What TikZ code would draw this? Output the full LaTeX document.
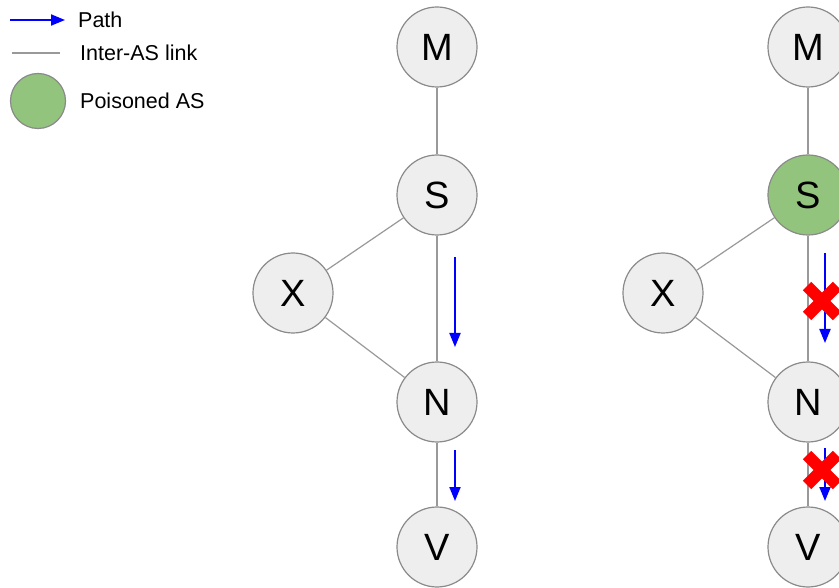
\documentclass[tikz,border=0pt]{standalone}
\usepackage{fontspec}
\setmainfont{Liberation Sans}
\usetikzlibrary{arrows.meta,calc}
\definecolor{nodefill}{HTML}{EEEEEE}
\definecolor{nodeborder}{HTML}{8A8A8A}
\definecolor{linkgray}{HTML}{999999}
\definecolor{poison}{HTML}{93C47D}
\definecolor{pathblue}{HTML}{0000FF}
\definecolor{crossred}{HTML}{FF0000}
\tikzset{
  asnode/.style={circle, draw=nodeborder, fill=nodefill, line width=1.2pt, minimum size=80pt, inner sep=0pt, font=\fontsize{38}{40}\selectfont},
  poisoned/.style={asnode, fill=poison},
  link/.style={draw=linkgray, line width=1.2pt},
  patharrow/.style={draw=pathblue, line width=2pt, -{Triangle[width=11pt,length=14pt]}},
  crossline/.style={draw=crossred, line width=12pt},
  legendtext/.style={anchor=west, inner sep=0pt, font=\fontsize{21.5}{24}\selectfont}
}
\begin{document}
\begin{tikzpicture}[x=1pt,y=-1pt]
\clip (0,0) rectangle (839,588);
\useasboundingbox (0,0) rectangle (839,588);
\fill[white] (0,0) rectangle (839,588);

% legend
\coordinate (la1) at (10,20);
\coordinate (la2) at (65,20);
\draw[patharrow] (la1) -- (la2);
\node[legendtext] (lpath) at (78,20) {Path};
\coordinate (ll1) at (12,53);
\coordinate (ll2) at (60,53);
\draw[link] (ll1) -- (ll2);
\node[legendtext] (llink) at (80,53) {Inter-AS link};
\node[poisoned, minimum size=55pt] (lpois) at (38,101) {};
\node[legendtext] (lpoistext) at (80,101) {Poisoned AS};

% left graph
\node[asnode] (M1) at (437,47) {M};
\node[asnode] (S1) at (437,195) {S};
\node[asnode] (X1) at (293,293) {X};
\node[asnode] (N1) at (437,402) {N};
\node[asnode] (V1) at (437,547) {V};
\draw[link] (M1) -- (S1);
\draw[link] (S1) -- (X1);
\draw[link] (X1) -- (N1);
\draw[link] (S1) -- (N1);
\draw[link] (N1) -- (V1);
\coordinate (a1s) at (455,257);
\coordinate (a1e) at (455,347);
\coordinate (a2s) at (455,450);
\coordinate (a2e) at (455,501);
\draw[patharrow] (a1s) -- (a1e);
\draw[patharrow] (a2s) -- (a2e);

% right graph
\node[asnode] (M2) at (808,47) {M};
\node[poisoned] (S2) at (808,195) {S};
\node[asnode] (X2) at (663,293) {X};
\node[asnode] (N2) at (808,402) {N};
\node[asnode] (V2) at (808,547) {V};
\draw[link] (M2) -- (S2);
\draw[link] (S2) -- (X2);
\draw[link] (X2) -- (N2);
\draw[link] (S2) -- (N2);
\draw[link] (N2) -- (V2);
\coordinate (b1s) at (825,253);
\coordinate (b1e) at (825,343);
\coordinate (b2s) at (825,448);
\coordinate (b2e) at (825,501);
\draw[patharrow] (b1s) -- (b1e);
\draw[patharrow] (b2s) -- (b2e);

% crosses
\coordinate (c1) at (822,301);
\coordinate (c2) at (822,470);
\foreach \c in {c1,c2}{
  \draw[crossline] ($(\c)+(-15,-15)$) -- ($(\c)+(15,15)$);
  \draw[crossline] ($(\c)+(-15,15)$) -- ($(\c)+(15,-15)$);
}
\end{tikzpicture}
\end{document}
